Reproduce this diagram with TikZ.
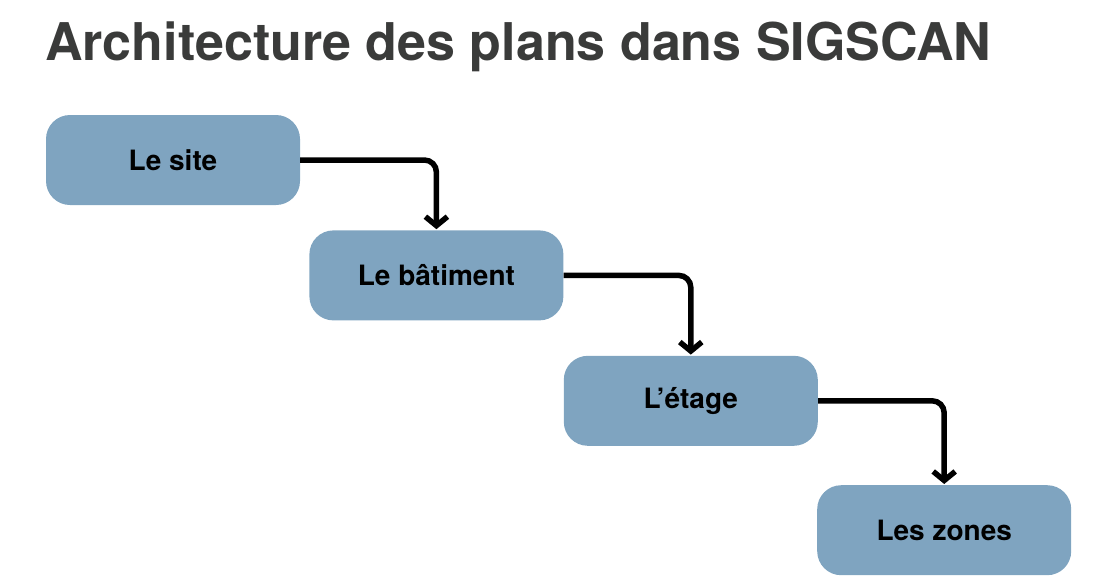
\documentclass[tikz,border=0pt]{standalone}
\usepackage{fontspec}
\setmainfont{TeX Gyre Heros}
\usepackage{xcolor}
\usepackage{tikz}
\usetikzlibrary{arrows.meta,positioning}

\definecolor{planblue}{HTML}{7FA4C0}
\definecolor{titlegray}{HTML}{3A3B3A}

\begin{document}
\begin{tikzpicture}[
  x=1pt, y=-1pt,
  planbox/.style={rectangle, rounded corners=24pt, fill=planblue,
                  minimum height=90pt, minimum width=254pt,
                  text centered, font=\fontsize{28}{33}\selectfont\bfseries,
                  inner sep=0pt},
  arrow/.style={-{Straight Barb[length=9pt, width=22pt]}, line width=5.5pt,
                rounded corners=12pt}
]
  \useasboundingbox (0,0) rectangle (1101,587);

  % Title
  \node[anchor=base west, inner sep=0pt, text=titlegray,
        font=\fontsize{52}{60}\selectfont\bfseries] (title) at (45,60)
    {Architecture des plans dans SIGSCAN};

  % Plan levels
  \node[planbox] (site) at (173,160) {Le site};
  \node[planbox, below right=25pt and 9pt of site] (batiment) {Le bâtiment};
  \node[planbox, below right=35pt and 0pt of batiment] (etage) {L’étage};
  \node[planbox, below right=39pt and -1pt of etage] (zones) {Les zones};

  % Links
  \draw[arrow] (site.east) -| ([yshift=1pt]batiment.north);
  \draw[arrow] (batiment.east) -| ([yshift=1pt]etage.north);
  \draw[arrow] (etage.east) -| ([yshift=1pt]zones.north);
\end{tikzpicture}
\end{document}
